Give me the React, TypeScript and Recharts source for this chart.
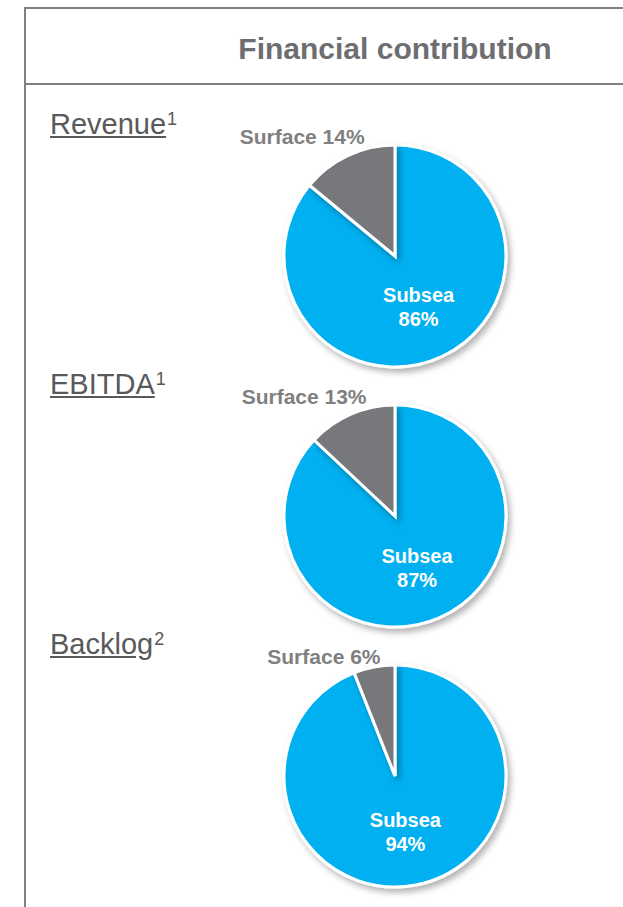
import React from 'react';
import { PieChart, Pie, Cell } from 'recharts';

// chart values
const metrics = ['Revenue', 'EBITDA', 'Backlog'];
const footnotes = ['1', '1', '2'];
const segmentNames = ['Subsea', 'Surface'];
const subseaShare = [86, 87, 94];
const surfaceShare = [14, 13, 6];

const BLUE = '#00b0f0';
const GRAY = '#76787b';
const TEXT_GRAY = '#6d6e71';
const FONT = '"Liberation Sans", Arial, sans-serif';

// recharts adds its 5px default margin to numeric cx / cy
const PIE_X = 390;
const PIE_TOP = 251;
const PIE_STEP = 260;
const RADIUS = 111;

const renderLabel = (props: any) => {
    const { cx, cy, midAngle, outerRadius, name, value } = props;
    const rad = (-midAngle * Math.PI) / 180;
    if (name === 'Subsea') {
        const x = cx + Math.cos(rad) * outerRadius * 0.5;
        const y = cy + Math.sin(rad) * outerRadius * 0.5;
        return (
            <text
                x={x}
                y={y}
                fill="#ffffff"
                textAnchor="middle"
                fontFamily={FONT}
                fontWeight="bold"
                fontSize={20}
            >
                <tspan x={x} dy={-4}>{name}</tspan>
                <tspan x={x} dy={24}>{`${value}%`}</tspan>
            </text>
        );
    }
    // Surface label sits above the pie, right aligned near the top
    const x = cx - 2 + Math.cos(rad) * outerRadius * 0.6;
    const y = cy - outerRadius - 8;
    return (
        <text
            x={x}
            y={y + 7}
            fill="#808080"
            textAnchor="end"
            fontFamily={FONT}
            fontWeight="bold"
            fontSize={21}
        >
            {`${name} ${value}%`}
        </text>
    );
};

const App = () => {
    return (
        <div style={{ position: 'absolute', left: 0, top: 0, width: 623, height: 907, overflow: 'hidden', background: '#fff', fontFamily: FONT }}>
            {/* frame */}
            <div style={{ position: 'absolute', left: 24, top: 7, width: 742, height: 78, border: '2px solid #808080', boxSizing: 'border-box' }} />
            <div style={{ position: 'absolute', left: 24, top: 83, width: 742, height: 840, borderLeft: '2px solid #808080', borderRight: '2px solid #808080', boxSizing: 'border-box' }} />
            <div style={{ position: 'absolute', left: 24, width: 742, top: 29, textAlign: 'center', fontSize: 30, fontWeight: 'bold', color: TEXT_GRAY, lineHeight: '40px' }}>
                Financial contribution
            </div>

            {metrics.map((m, i) => (
                <div
                    key={m}
                    style={{ position: 'absolute', left: 50, top: 107 + i * PIE_STEP, fontSize: 29, color: '#58595b', lineHeight: '34px', whiteSpace: 'nowrap' }}
                >
                    <span style={{ textDecoration: 'underline' }}>{m}</span>
                    <span style={{ fontSize: 18, lineHeight: '18px', verticalAlign: 'top', position: 'relative', top: 3, marginLeft: 1 }}>{footnotes[i]}</span>
                </div>
            ))}

            <PieChart width={623} height={907} style={{ position: 'absolute', left: 0, top: 0 }}>
                <defs>
                    <filter id="pieShadow" x="-20%" y="-20%" width="140%" height="140%">
                        <feDropShadow dx="3" dy="4" stdDeviation="3" floodColor="#000" floodOpacity="0.3" />
                    </filter>
                </defs>
                {metrics.map((m, i) => {
                    const data = [
                        { name: segmentNames[0], value: subseaShare[i] },
                        { name: segmentNames[1], value: surfaceShare[i] },
                    ];
                    return (
                        <Pie
                            key={m}
                            data={data}
                            dataKey="value"
                            nameKey="name"
                            cx={PIE_X}
                            cy={PIE_TOP + i * PIE_STEP}
                            outerRadius={RADIUS}
                            startAngle={90}
                            endAngle={-270}
                            stroke="#ffffff"
                            strokeWidth={3}
                            label={renderLabel}
                            labelLine={false}
                            isAnimationActive={false}
                            style={{ filter: 'url(#pieShadow)' }}
                        >
                            {data.map((d, j) => (
                                <Cell key={`cell-${i}-${j}`} fill={j === 0 ? BLUE : GRAY} />
                            ))}
                        </Pie>
                    );
                })}
            </PieChart>
        </div>
    );
};

export default App;
